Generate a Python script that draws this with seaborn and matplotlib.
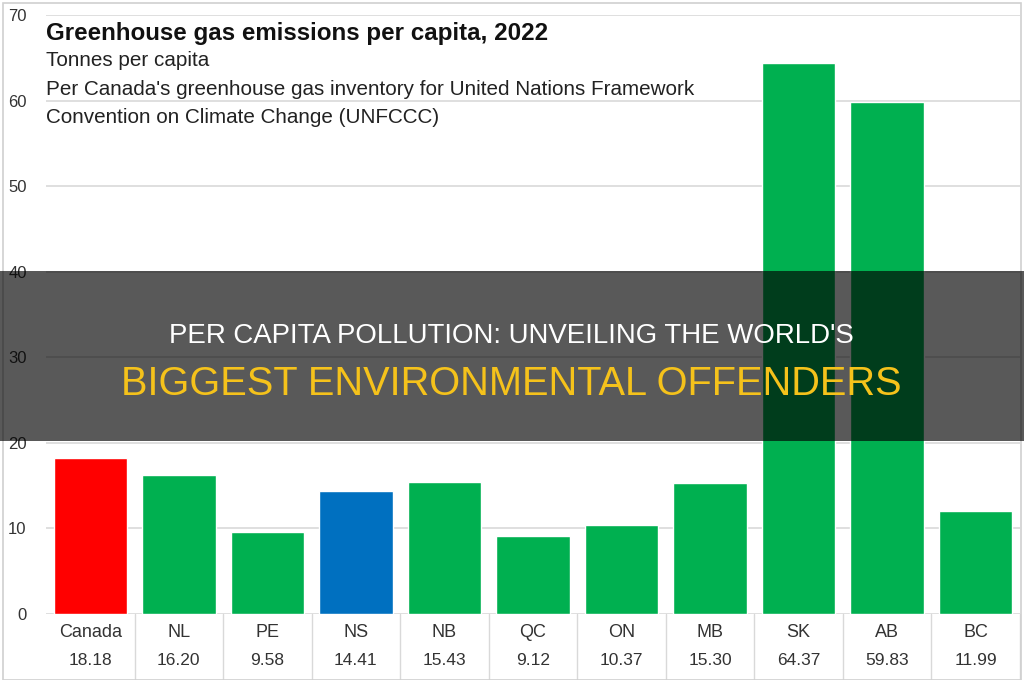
import matplotlib
matplotlib.use("Agg")
import matplotlib.pyplot as plt
import matplotlib.transforms as mtransforms
from matplotlib.patches import Rectangle
import seaborn as sns
import pandas as pd

# data
regions = ["Canada", "NL", "PE", "NS", "NB", "QC", "ON", "MB", "SK", "AB", "BC"]
tonnes = [18.18, 16.20, 9.58, 14.41, 15.43, 9.12, 10.37, 15.30, 64.37, 59.83, 11.99]
bar_colors = ["#ff0000", "#00b050", "#00b050", "#0070c0", "#00b050", "#00b050",
              "#00b050", "#00b050", "#00b050", "#00b050", "#00b050"]
y_ticks = [0, 10, 20, 30, 40, 50, 60, 70]

title = "Greenhouse gas emissions per capita, 2022"
subtitle = ["Tonnes per capita",
            "Per Canada's greenhouse gas inventory for United Nations Framework",
            "Convention on Climate Change (UNFCCC)"]
banner_top = "PER CAPITA POLLUTION: UNVEILING THE WORLD'S"
banner_bottom = "BIGGEST ENVIRONMENTAL OFFENDERS"

sns.set_style("white")
plt.rcParams["font.family"] = ["Liberation Sans", "DejaVu Sans"]

df = pd.DataFrame({"region": regions, "tonnes": tonnes})

fig = plt.figure(figsize=(10.24, 6.8), dpi=100)
ax = fig.add_axes([0.045, 0.097, 0.951, 0.881])

sns.barplot(data=df, x="region", y="tonnes", hue="region", palette=bar_colors,
            width=0.83, saturation=1, legend=False, ax=ax, zorder=2)

ax.set_ylim(0, 70)
ax.set_xlim(-0.5, len(regions) - 0.5)
ax.set_yticks(y_ticks)
ax.set_yticklabels([str(t) for t in y_ticks], fontsize=12, color="#333333")
ax.tick_params(axis="y", length=0, pad=14)
ax.set_xticks([])
ax.set_xlabel("")
ax.set_ylabel("")
ax.grid(axis="y", color="#d9d9d9", linewidth=1.2, zorder=0)
ax.set_axisbelow(True)
for s in ax.spines.values():
    s.set_visible(False)

# data table under the axis
trans = mtransforms.blended_transform_factory(ax.transData, ax.transAxes)
for i, (name, val) in enumerate(zip(regions, tonnes)):
    ax.text(i, -0.03, name, transform=trans, ha="center", va="center",
            fontsize=13, color="#333333", clip_on=False)
    ax.text(i, -0.077, f"{val:.2f}", transform=trans, ha="center", va="center",
            fontsize=12.5, color="#333333", clip_on=False)
for k in range(len(regions)):
    ax.plot([k + 0.5, k + 0.5], [0, -0.12], transform=trans, color="#d9d9d9",
            linewidth=1, clip_on=False)

# titles inside the plot area
fig.text(0.045, 0.951, title, fontsize=17.4, fontweight="bold",
         color="#111111", va="center", ha="left")
for j, line in enumerate(subtitle):
    fig.text(0.045, 0.911 - j * 0.042, line, fontsize=14.9,
             color="#222222", va="center", ha="left")

# outer frame
fig.add_artist(Rectangle((0.003, 0.0), 0.994, 0.995, transform=fig.transFigure,
                         fill=False, edgecolor="#d0d0d0", linewidth=1.2))

# dark banner across the middle
fig.add_artist(Rectangle((0, 0.3515), 1, 0.25, transform=fig.transFigure,
                         facecolor="black", alpha=0.65, edgecolor="none", zorder=10))
fig.text(0.4995, 0.4956, banner_top, fontsize=19.9, color="white",
         ha="center", va="baseline", zorder=11)
fig.text(0.499, 0.4191, banner_bottom, fontsize=28.6, color="#f5c21b",
         ha="center", va="baseline", zorder=11)

fig.savefig("out.png", dpi=100)
